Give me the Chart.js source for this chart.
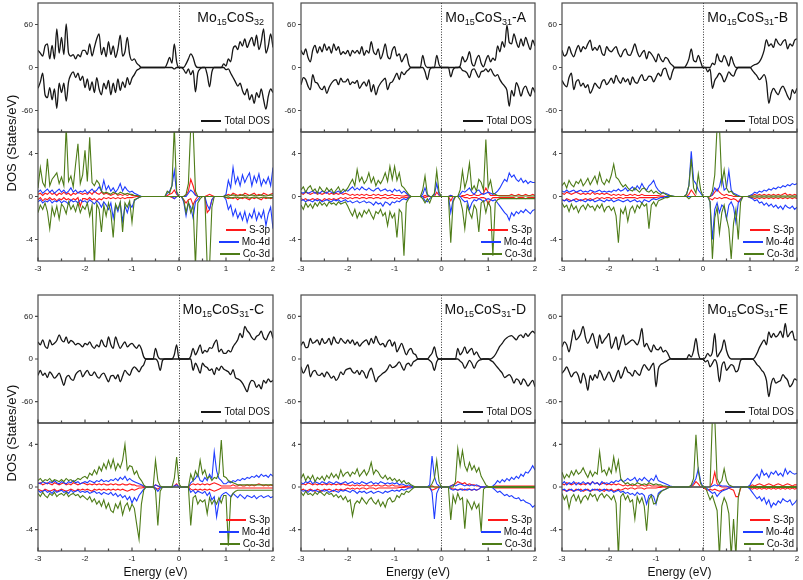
<!DOCTYPE html>
<html><head><meta charset="utf-8">
<script src="https://cdn.jsdelivr.net/npm/chart.js@4.4.1/dist/chart.umd.min.js"></script>
<style>
html,body{margin:0;padding:0;background:#fff}
#root{position:relative;width:803px;height:580px;overflow:hidden;font-family:"Liberation Sans",Arial,sans-serif;color:#111}
.ttl{position:absolute;font-size:14px;line-height:16px;white-space:nowrap;text-align:right}
.ttl sub{font-size:9px;vertical-align:-3px;line-height:0}
.lg{position:absolute;font-size:10px;line-height:12px;white-space:nowrap;text-align:right}
.sw{display:inline-block;width:20px;height:2px;vertical-align:middle;margin-right:3px;margin-top:-1px}
.yl{position:absolute;width:160px;text-align:center;font-size:13px;line-height:14px;transform:rotate(-90deg);white-space:nowrap}
.xl{position:absolute;text-align:center;font-size:12px;line-height:14px;white-space:nowrap}
</style></head>
<body><div id="root"></div>
<script>
// ---------------- DATA ----------------
const energy=[-3,-2.95,-2.9,-2.85,-2.8,-2.75,-2.7,-2.65,-2.6,-2.55,
-2.5,-2.45,-2.4,-2.35,-2.3,-2.25,-2.2,-2.15,-2.1,-2.05,
-2,-1.95,-1.9,-1.85,-1.8,-1.75,-1.7,-1.65,-1.6,-1.55,
-1.5,-1.45,-1.4,-1.35,-1.3,-1.25,-1.2,-1.15,-1.1,-1.05,
-1,-0.95,-0.9,-0.85,-0.8,-0.75,-0.7,-0.65,-0.6,-0.55,
-0.5,-0.45,-0.4,-0.35,-0.3,-0.25,-0.2,-0.15,-0.1,-0.05,
0,0.05,0.1,0.15,0.2,0.25,0.3,0.35,0.4,0.45,
0.5,0.55,0.6,0.65,0.7,0.75,0.8,0.85,0.9,0.95,
1,1.05,1.1,1.15,1.2,1.25,1.3,1.35,1.4,1.45,
1.5,1.55,1.6,1.65,1.7,1.75,1.8,1.85,1.9,1.95,
2];
const xTickValues=[-3,-2,-1,0,1,2];
const xMinorTickValues=[-2.5,-1.5,-0.5,0.5,1.5];
const totalTickValues=[-60,0,60];
const partialTickValues=[-4,0,4];
const panelTitles=['Mo<sub>15</sub>CoS<sub>32</sub>','Mo<sub>15</sub>CoS<sub>31</sub>-A','Mo<sub>15</sub>CoS<sub>31</sub>-B','Mo<sub>15</sub>CoS<sub>31</sub>-C','Mo<sub>15</sub>CoS<sub>31</sub>-D','Mo<sub>15</sub>CoS<sub>31</sub>-E'];
const seriesNames=['Total DOS','S-3p','Mo-4d','Co-3d'];

// Panel 1: Mo15CoS32
const p1TotUp=[24,20,16,30,33,12,31,12,54,20, 42,18,61,20,16,18,12,18,15,24, 24,18,33,16,28,40,47,18,28,15, 36,18,30,14,26,45,16,22,42,18, 10,12,6,3,0,0,0,0,0,0, 0,0,0,0,0,6,14,6,33,8, 0,0,0,5,12,19,14,3,0,0, 0,0,0,0,0,0,0,0,0,5, 2,12,8,26,30,25,36,30,40,28, 36,42,30,45,25,36,54,20,30,47, 28];
const p1TotDn=[-29,-20,-8,-38,-42,-28,-45,-30,-57,-22, -35,-22,-47,-20,-10,-6,-14,-8,-18,-12, -28,-16,-32,-20,-35,-14,-30,-38,-22,-30, -18,-38,-22,-35,-16,-32,-20,-28,-14,-24, -15,-10,-4,-2,0,0,0,0,0,0, 0,0,0,0,0,0,0,0,-2,0, 0,0,-3,-8,-2,-10,-4,-34,-8,-2, 0,0,-10,-27,-6,0,0,0,0,0, -3,-2,-8,-14,-20,-26,-22,-32,-38,-30, -45,-38,-50,-35,-42,-30,-45,-58,-40,-30, -35];
const p1S3pUp=[0.2,0.3,0.1,0.3,0.2,0.4,0.2,0.3,0.1,0.3, 0.2,0.4,0.2,0.3,0.1,0.3,0.2,0.4,0.3,0.2, 0.3,0.2,0.4,0.2,0.5,0.3,0.2,0.4,0.2,0.3, 0.2,0.1,0.2,0.3,0.1,0.2,0.1,0.2,0.1,0.2, 0.1,0.1,0.05,0,0,0,0,0,0,0, 0,0,0,0,0,0.1,0.2,0.3,0.6,0.2, 0,0,0,0.1,0.5,1.6,1.0,0.2,0,0, 0,0,0.1,0.2,0.1,0,0,0,0,0, 0.1,0.2,0.1,0.3,0.2,0.1,0.2,0.1,0.3,0.2, 0.1,0.2,0.3,0.1,0.2,0.1,0.3,0.2,0.1,0.2, 0.3];
const p1S3pDn=[-0.3,-0.1,-0.4,-0.2,-0.3,-0.1,-0.3,-0.2,-0.4,-0.2, -0.3,-0.1,-0.3,-0.2,-0.4,-0.2,-0.3,-0.1,-0.9,-0.2, -0.2,-0.3,-0.1,-0.3,-0.2,-0.4,-0.2,-0.3,-0.1,-0.2, -0.1,-0.2,-0.1,-0.2,-0.1,-0.2,-0.1,-0.2,-0.1,-0.1, -0.1,-0.05,0,0,0,0,0,0,0,0, 0,0,0,0,0,0,0,-0.1,-0.2,0, 0,0,-0.3,-0.6,-0.3,-0.2,-0.8,-0.3,0,0, 0,0,-1.5,-1.2,-0.3,0,0,0,0,0, -0.1,-0.2,-0.1,-0.2,-0.1,-0.3,-0.1,-0.2,-0.1,-0.2, -0.3,-0.1,-0.2,-0.1,-0.2,-0.3,-0.1,-0.2,-0.1,-0.2, -0.1];
const p1Mo4dUp=[0.4,0.6,0.3,0.5,0.7,0.4,0.6,0.3,0.5,0.7, 0.4,0.6,0.3,0.5,0.8,0.4,0.6,0.3,0.5,0.4, 0.6,0.3,0.5,0.7,0.4,0.6,0.9,0.5,1.5,0.6, 1.0,0.5,0.8,0.4,0.7,1.2,0.5,0.9,0.6,0.4, 0.5,0.3,0.2,0.1,0,0,0,0,0,0, 0,0,0,0,0,0.3,0.5,1.0,2.4,0.3, 0,0,0,0,0.3,0.6,0.4,0.1,0,0, 0,0,0,0,0,0,0,0,0,0, 0.2,1.5,0.8,2.7,1.2,1.8,1.0,2.0,1.3,1.8, 2.2,1.0,1.9,1.3,2.1,1.0,1.6,1.2,1.8,1.0, 2.7];
const p1Mo4dDn=[-0.5,-0.3,-0.6,-0.4,-0.5,-0.3,-0.6,-0.4,-0.5,-0.3, -0.6,-0.4,-0.5,-0.7,-0.3,-0.5,-0.4,-0.6,-0.3,-0.5, -0.4,-0.6,-0.3,-0.5,-0.7,-0.4,-0.6,-1.0,-0.5,-0.8, -1.2,-0.6,-2.0,-0.8,-1.4,-0.6,-2.3,-0.9,-1.5,-0.7, -1.0,-0.4,-0.2,-0.1,0,0,0,0,0,0, 0,0,0,0,0,0,0,0,-0.2,0, 0,0,-0.5,-1.8,-0.6,-1.0,-2.0,-0.5,-0.3,0, 0,0,-0.8,-1.2,-0.3,0,0,0,0,0, -0.3,-1.2,-0.8,-1.8,-1.2,-2.0,-1.5,-2.2,-1.4,-2.4, -1.6,-2.0,-1.2,-2.2,-1.5,-2.0,-1.3,-2.7,-1.6,-1.0, -3.0];
const p1Co3dUp=[0.8,2.7,1.3,0.9,3.5,1.0,1.6,1.9,2.2,1.2, 1.8,1.0,6.5,1.4,1.9,0.9,3.0,4.9,1.2,2.0, 4.3,1.4,5.5,1.3,1.0,1.5,1.2,0.5,0.3,0.4, 0.3,0.2,0.4,0.3,0.2,0.4,0.3,0.2,0.3,0.2, 0.2,0.1,0.1,0.05,0,0,0,0,0,0, 0,0,0,0,0,0.5,0.3,1.0,6.5,0.5, 0,0,0,0.2,1.2,6.5,6.5,0.5,0,0, 0,0,0,0,0,0,0,0,0,0, 0.1,0.05,0.1,0.15,0.1,0.05,0.1,0.15,0.1,0.05, 0.1,0.15,0.1,0.05,0.1,0.15,0.1,0.05,0.1,0.15, 0.1];
const p1Co3dDn=[-1.5,-0.8,-1.2,-0.6,-1.4,-3.0,-1.0,-1.8,-0.9,-2.1, -0.7,-1.0,-1.6,-0.5,-1.2,-0.8,-1.4,-0.6,-1.5,-0.9, -1.2,-0.6,-1.8,-0.8,-6.5,-0.7,-1.2,-3.3,-0.8,-1.8, -0.6,-1.5,-3.8,-0.7,-1.2,-0.5,-3.3,-0.6,-1.0,-0.4, -2.4,-0.3,-0.2,-0.1,0,0,0,0,0,0, 0,0,0,0,0,0,0,0,0,0, 0,0,-0.3,-1.5,-0.5,-1.5,-0.8,-6.5,-0.6,-0.2, 0,0,-6.5,-6.5,-1.0,0,0,0,0,0, -0.1,-0.05,-0.15,-0.1,-0.05,-0.1,-0.15,-0.1,-0.05,-0.1, -0.15,-0.1,-0.05,-0.1,-0.15,-0.1,-0.05,-0.1,-0.15,-0.1, -0.1];

// Panel 2: Mo15CoS31-A
const p2TotUp=[24,18,26,14,8,24,31,20,29,22, 33,24,29,20,33,24,29,18,22,19, 24,16,24,20,24,19,29,17,24,20, 36,22,18,26,12,20,33,16,12,24, 29,16,19,8,14,19,5,0,0,0, 0,0,17,4,0,0,0,0,17,4, 0,0,0,0,0,0,0,0,2,15, 8,12,22,6,2,12,17,6,1,10, 17,8,13,10,30,22,36,28,59,35, 33,47,36,28,40,30,42,33,25,38, 30];
const p2TotDn=[-24,-14,-17,-26,-31,-10,-20,-22,-28,-31, -26,-36,-28,-22,-18,-17,-24,-15,-20,-20, -16,-24,-20,-22,-18,-29,-24,-20,-26,-17, -34,-24,-38,-28,-22,-18,-15,-31,-22,-20, -14,-8,-17,-6,-10,-6,-3,0,0,0, 0,0,0,-6,-17,-3,0,0,0,0, 0,0,0,0,-13,-3,0,0,0,-4, -5,-8,-14,-4,-2,-8,-14,-6,-5,-2, -6,-2,-8,-12,-10,-17,-22,-26,-32,-54, -32,-40,-21,-28,-40,-30,-26,-34,-40,-28, -35];
const p2S3pUp=[0.3,0.2,0.4,0.3,0.2,0.3,0.4,0.2,0.3,0.2, 0.3,0.4,0.2,0.3,0.2,0.3,0.2,0.3,0.2,0.3, 0.2,0.1,0.2,0.1,0.2,0.1,0.2,0.1,0.2,0.1, 0.1,0.2,0.1,0.2,0.1,0.1,0.2,0.1,0.1,0.2, 0.1,0.1,0.1,0.05,0.05,0.1,0.05,0,0,0, 0,0,0,0.1,0,0,0,0,0.4,0.1, 0,0,0,0,0.1,0,0,0,0,0.1, 0.1,0.2,0.1,0.1,0.2,0.1,0.1,0.2,0.3,0.8, 0.4,0.1,0.1,0.1,0.1,0.1,0.1,0.1,0.1,0.1, 0.2,0.1,0.1,0.2,0.1,0.1,0.2,0.1,0.1,0.2, 0.1];
const p2S3pDn=[-0.2,-0.3,-0.2,-0.4,-0.3,-0.2,-0.3,-0.2,-0.3,-0.4, -0.2,-0.3,-0.2,-0.3,-0.2,-0.3,-0.2,-0.1,-0.2,-0.1, -0.2,-0.1,-0.2,-0.1,-0.1,-0.2,-0.1,-0.1,-0.2,-0.1, -0.1,-0.2,-0.1,-0.1,-0.2,-0.1,-0.1,-0.2,-0.1,-0.1, -0.2,-0.1,-0.2,-0.1,-0.05,-0.1,-0.05,0,0,0, 0,0,0,-0.1,0,0,0,0,0,0, 0,0,0,0,-0.4,0,0,0,0,0, -0.1,-0.1,-0.2,-0.1,-0.1,-0.1,-0.2,-0.1,-0.1,-0.2, -0.7,-0.3,-0.1,-0.1,-0.1,-0.1,-0.1,-0.1,-0.1,-0.1, -0.1,-0.1,-0.2,-0.1,-0.1,-0.1,-0.2,-0.1,-0.1,-0.1, -0.1];
const p2Mo4dUp=[0.4,0.3,0.5,0.3,0.4,0.5,0.3,0.4,0.3,0.5, 0.4,0.3,0.5,0.4,0.3,0.4,0.5,0.3,0.4,0.6, 0.5,0.7,0.9,0.6,0.8,0.6,0.9,0.7,0.6,0.8, 0.6,0.5,0.7,0.8,0.5,0.6,0.7,0.5,0.6,0.4, 0.7,0.5,0.6,0.3,0.5,0.3,0.1,0,0,0, 0,0,0.2,0.8,0.1,0,0,0.2,1.2,0.2, 0,0,0,0,0.1,0,0,0,0.2,0.5, 0.4,0.6,0.8,0.4,0.2,0.5,0.6,0.3,0.2,0.3, 0.4,0.3,0.2,0.3,0.5,0.8,1.2,1.6,1.4,2.2, 1.8,2.0,1.6,1.4,1.7,1.3,1.5,1.2,1.4,1.3, 1.3];
const p2Mo4dDn=[-0.4,-0.3,-0.5,-0.3,-0.4,-0.5,-0.3,-0.4,-0.3,-0.5, -0.4,-0.3,-0.4,-0.5,-0.3,-0.4,-0.3,-0.5,-0.4,-0.3, -0.5,-0.4,-0.6,-0.5,-0.4,-0.6,-0.5,-0.4,-0.6,-0.5, -0.6,-0.8,-0.5,-0.7,-0.6,-0.9,-0.5,-0.6,-0.8,-0.5, -0.6,-0.4,-0.5,-0.3,-0.2,-0.3,-0.1,0,0,0, 0,0,0,-0.4,-0.5,-0.2,0,0,0,0, 0,0,0,0,-1.5,-0.3,0,0,0,-0.3, -0.5,-0.4,-1.2,-0.6,-0.3,-0.4,-0.2,-0.3,-0.5,-0.3, -0.2,-0.3,-0.4,-0.3,-0.6,-0.9,-1.2,-1.5,-1.7,-2.2, -1.5,-1.8,-1.4,-1.6,-1.3,-1.5,-1.2,-1.4,-1.6,-1.3, -1.2];
const p2Co3dUp=[0.6,0.9,0.4,0.8,1.0,0.5,0.7,0.3,0.9,0.6, 0.4,0.8,0.5,0.7,0.3,0.6,0.9,0.4,0.7,0.5, 0.8,1.2,1.6,1.0,2.5,1.4,1.8,1.2,1.5,2.2, 1.3,1.8,1.0,1.5,1.2,1.6,2.2,1.4,2.8,1.6, 2.8,1.5,2.2,1.0,0.8,0.5,0.2,0,0,0, 0,0,0.6,1.9,0.2,0,0,0.3,2.4,0.4, 0,0,0,0,0,0,0,0,0.6,2.4, 0.8,1.6,3.1,0.6,1.0,0.5,1.6,1.3,0.6,5.3, 0.8,1.5,0.3,0.2,0.1,0.05,0.05,0.05,0.05,0.05, 0.05,0.05,0.05,0.05,0.05,0.05,0.05,0.05,0.05,0.05, 0.05];
const p2Co3dDn=[-0.8,-1.2,-0.6,-1.0,-0.7,-1.1,-0.6,-0.9,-0.5,-0.8, -0.6,-0.9,-0.5,-0.7,-0.6,-0.8,-0.5,-0.7,-0.6,-0.5, -0.9,-1.4,-1.8,-1.2,-2.0,-1.5,-1.9,-1.3,-1.6,-1.2, -1.7,-2.1,-1.4,-1.6,-1.2,-1.8,-1.5,-2.7,-1.4,-2.0, -1.6,-3.8,-1.2,-1.5,-5.5,-0.6,-0.2,0,0,0, 0,0,-0.2,-0.6,-0.2,-0.6,0,0,0,0, 0,0,0,0,-4.3,-0.5,0,0,-0.3,-1.2, -3.0,-0.8,-1.5,-2.0,-0.8,-1.2,-3.3,-0.6,-0.4,-1.5, -0.5,-1.0,-5.5,-0.6,-0.3,-0.2,-0.2,-0.2,-0.2,-0.2, -0.2,-0.2,-0.2,-0.2,-0.2,-0.2,-0.2,-0.2,-0.2,-0.2, -0.2];

// Panel 3: Mo15CoS31-B
const p3TotUp=[24,16,19,29,20,15,24,31,22,29, 26,33,38,24,28,24,31,20,17,29, 24,22,26,29,20,15,22,26,18,17, 24,33,22,15,20,24,12,22,19,14, 8,19,12,8,14,12,6,3,0,0, 0,0,0,4,12,26,10,8,17,8, 0,0,0,0,6,4,19,10,8,17, 10,2,15,6,0,0,0,0,0,0, 0,2,4,5,8,14,24,39,30,33, 28,40,34,31,36,39,26,33,30,38, 40];
const p3TotDn=[-18,-24,-27,-14,-8,-31,-20,-17,-26,-22, -28,-24,-36,-30,-22,-26,-29,-20,-17,-24, -20,-15,-22,-11,-18,-22,-14,-20,-16,-24, -13,-20,-22,-15,-10,-18,-17,-12,-13,-20, -14,-8,-12,-3,-1,-10,-17,-6,0,0, 0,0,0,0,0,0,0,0,0,0, 0,0,-6,-2,-29,-18,-13,-8,-12,-20, -14,-6,-10,-12,-4,0,0,0,0,0, 0,-4,-8,-12,-17,-14,-10,-20,-50,-36, -29,-34,-38,-30,-26,-32,-40,-45,-31,-36, -29];
const p3S3pUp=[0.3,0.2,0.4,0.3,0.2,0.3,0.4,0.3,0.2,0.3, 0.2,0.3,0.2,0.4,0.2,0.3,0.2,0.3,0.2,0.3, 0.2,0.1,0.2,0.1,0.2,0.1,0.2,0.1,0.1,0.2, 0.1,0.2,0.1,0.1,0.2,0.1,0.1,0.1,0.1,0.1, 0.1,0.1,0.05,0.05,0,0,0,0,0,0, 0,0,0,0,0.2,0.6,0.3,0,0,0, 0,0,0,0,0.1,0.4,0.7,0.4,0.2,0.1, 0.2,0.1,0.1,0,0,0,0,0,0,0, 0.05,0.1,0.2,0.1,0.2,0.1,0.2,0.1,0.2,0.1, 0.2,0.1,0.2,0.1,0.2,0.3,0.1,0.2,0.1,0.2, 0.1];
const p3S3pDn=[-0.3,-0.4,-0.2,-0.3,-0.4,-0.3,-0.2,-0.3,-0.4,-0.3, -0.2,-0.3,-0.2,-0.3,-0.2,-0.1,-0.2,-0.1,-0.2,-0.1, -0.1,-0.2,-0.1,-0.2,-0.1,-0.1,-0.2,-0.1,-0.1,-0.1, -0.1,-0.1,-0.2,-0.1,-0.1,-0.1,-0.1,-0.1,-0.1,-0.1, -0.1,-0.05,-0.05,0,0,0,0,0,0,0, 0,0,0,0,0,0,0,0,0,0, 0,0,0,-0.2,-0.3,-0.1,-0.2,-0.1,-0.2,-0.1, -0.1,-0.2,-0.3,-0.2,-0.3,-0.5,-0.2,0,0,0, -0.1,-0.1,-0.2,-0.1,-0.2,-0.1,-0.2,-0.1,-0.2,-0.1, -0.2,-0.1,-0.2,-0.1,-0.2,-0.1,-0.2,-0.1,-0.2,-0.1, -0.2];
const p3Mo4dUp=[0.5,0.4,0.6,0.4,0.5,0.6,0.4,0.5,0.6,0.4, 0.5,0.4,0.6,0.5,0.4,0.5,0.6,0.4,0.5,0.4, 0.5,0.4,0.6,0.5,0.7,0.5,0.6,0.8,0.5,0.7, 0.9,0.6,1.0,0.7,1.2,0.8,0.6,1.0,1.2,1.5, 0.9,0.6,0.4,0.3,0.3,0.2,0.1,0.05,0,0, 0,0,0,0.2,1.0,4.2,1.5,1.2,0.6,0.3, 0,0,0,0,0.2,0.8,0.5,0.9,1.9,0.6, 0.8,2.4,0.6,0.3,0.2,0.1,0,0,0,0, 0.1,0.2,0.4,0.3,0.5,0.4,0.6,0.5,0.7,0.6, 0.8,0.7,0.9,0.8,1.0,0.9,1.1,1.0,1.2,1.1, 1.2];
const p3Mo4dDn=[-0.3,-0.4,-0.3,-0.5,-0.4,-0.3,-0.5,-0.4,-0.3,-0.4, -0.5,-0.3,-0.4,-0.3,-0.5,-0.4,-0.3,-0.4,-0.5,-0.3, -0.4,-0.3,-0.5,-0.4,-0.3,-0.4,-0.5,-0.4,-0.3,-0.5, -0.4,-0.3,-0.5,-0.4,-0.6,-0.3,-0.4,-0.5,-0.3,-0.2, -0.3,-0.2,-0.1,-0.1,0,0,0,0,0,0, 0,0,0,0,0,0,0,0,0,0, 0,0,0,-0.5,-4.0,-1.2,-0.6,-1.5,-0.8,-1.0, -2.1,-0.8,-0.5,-1.0,-2.4,-0.6,-0.3,0,0,0, -0.1,-0.2,-0.4,-0.3,-0.6,-0.5,-0.8,-0.6,-0.9,-0.7, -1.0,-0.8,-1.1,-0.9,-1.2,-0.8,-1.0,-1.1,-0.9,-1.2, -1.0];
const p3Co3dUp=[1.0,1.3,0.8,1.5,1.1,0.9,1.4,1.2,1.6,1.0, 1.3,1.7,1.1,1.5,1.9,1.2,2.2,1.4,1.1,1.6, 1.3,2.0,3.0,1.8,1.6,1.2,0.9,1.1,0.8,0.6, 0.5,0.8,0.6,0.4,0.7,0.8,0.5,0.4,0.6,0.3, 0.5,0.3,0.2,0.4,0.2,0.1,0.1,0.05,0,0, 0,0,0,0.2,1.0,3.5,0.8,0.3,2.1,0.6, 0,0,0,0,0.5,2.0,6.5,6.5,1.2,2.5, 0.8,0.4,0.5,0.2,0.1,0,0,0,0,0, 0.05,0.05,0.05,0.05,0.05,0.05,0.05,0.05,0.05,0.05, 0.05,0.05,0.05,0.05,0.05,0.05,0.05,0.05,0.05,0.05, 0.05];
const p3Co3dDn=[-0.6,-1.0,-0.8,-1.4,-0.7,-1.2,-0.9,-1.5,-1.0,-0.8, -1.2,-0.7,-1.0,-0.9,-1.3,-0.8,-1.1,-0.7,-1.4,-1.0, -0.9,-1.3,-1.0,-1.8,-4.3,-1.2,-1.6,-1.0,-2.3,-1.2, -0.9,-1.5,-0.8,-1.1,-0.6,-0.9,-0.7,-3.0,-0.8,-0.5, -0.9,-0.4,-0.3,-0.2,-0.1,-0.1,0,0,0,0, 0,0,0,0,-0.2,0,0,0,0,0, 0,0,0,-0.5,-5.8,-2.0,-1.0,-3.4,-1.5,-0.8, -2.0,-3.0,-5.8,-2.5,-1.2,-4.0,-0.5,0,0,0, -0.05,-0.05,-0.05,-0.05,-0.05,-0.05,-0.05,-0.05,-0.05,-0.05, -0.05,-0.05,-0.05,-0.05,-0.05,-0.05,-0.05,-0.05,-0.05,-0.05, -0.05];

// Panel 4: Mo15CoS31-C
const p4TotUp=[24,20,27,18,15,27,20,22,26,34, 27,24,31,22,26,24,20,22,20,17, 22,20,24,18,15,20,17,27,20,17, 31,20,15,31,22,15,20,24,17,20, 22,18,15,20,14,3,0,0,0,0, 15,4,0,0,0,0,0,0,6,20, 0,0,0,0,0,4,15,6,12,20, 8,12,10,16,15,22,27,10,14,8, 8,12,10,17,22,27,36,30,46,40, 36,30,27,32,34,39,30,27,34,39, 29];
const p4TotDn=[-23,-16,-23,-20,-26,-18,-22,-27,-24,-20, -28,-37,-26,-23,-28,-30,-22,-18,-16,-25, -20,-16,-22,-23,-18,-24,-27,-22,-20,-26, -32,-24,-23,-28,-22,-32,-24,-16,-20,-23, -15,-11,-14,-18,-12,-8,0,0,0,0, 0,-4,-16,-2,0,0,0,0,0,0, 0,0,0,0,0,0,-16,-6,-12,-20, -6,-10,-12,-16,-14,-22,-12,-16,-10,-14, -16,-18,-22,-15,-26,-28,-30,-34,-40,-46, -35,-30,-32,-40,-36,-42,-30,-34,-28,-32, -30];
const p4S3pUp=[0.3,0.4,0.2,0.3,0.4,0.3,0.2,0.4,0.3,0.2, 0.3,0.4,0.2,0.3,0.2,0.4,0.3,0.2,0.3,0.4, 0.3,0.2,0.3,0.2,0.3,0.2,0.3,0.2,0.3,0.2, 0.2,0.3,0.2,0.3,0.2,0.2,0.3,0.2,0.2,0.3, 0.2,0.2,0.1,0.1,0.1,0.05,0,0,0,0, 0.2,0.1,0,0,0,0,0,0,0.1,0.3, 0,0,0,0,0,0.2,0.3,0.2,0.3,0.2, 0.3,0.2,0.3,0.2,0.3,0.4,0.3,0.2,0.1,0.1, 0.1,0.1,0.1,0.2,0.1,0.1,0.2,0.1,0.1,0.2, 0.1,0.2,0.1,0.2,0.3,0.2,0.1,0.2,0.1,0.2, 0.1];
const p4S3pDn=[-0.2,-0.3,-0.4,-0.2,-0.3,-0.4,-0.3,-0.2,-0.4,-0.3, -0.2,-0.3,-0.4,-0.3,-0.2,-0.3,-0.4,-0.2,-0.3,-0.2, -0.3,-0.2,-0.3,-0.4,-0.2,-0.3,-0.2,-0.3,-0.2,-0.3, -0.2,-0.3,-0.2,-0.3,-0.2,-0.3,-0.2,-0.3,-0.4,-0.3, -0.2,-0.3,-0.2,-0.1,-0.1,-0.05,0,0,0,0, -0.1,-0.2,0,0,0,0,0,0,0,0, 0,0,0,0,0,-0.2,-0.3,-0.2,-0.3,-0.2, -0.3,-0.2,-0.3,-0.2,-0.3,-0.4,-0.3,-0.2,-0.1,-0.1, -0.1,-0.1,-0.1,-0.1,-0.1,-0.1,-0.1,-0.1,-0.1,-0.1, -0.1,-0.1,-0.1,-0.1,-0.1,-0.1,-0.1,-0.1,-0.1,-0.1, -0.1];
const p4Mo4dUp=[0.4,0.3,0.5,0.4,0.3,0.5,0.4,0.6,0.4,0.3, 0.5,0.4,0.3,0.5,0.4,0.6,0.4,0.5,0.3,0.4, 0.5,0.4,0.6,0.5,0.4,0.6,0.5,0.7,0.5,0.6, 0.5,0.7,0.6,0.8,0.6,0.9,0.7,1.0,0.6,0.8, 0.6,0.5,0.4,0.3,0.2,0.1,0,0,0,0, 0.2,0.1,0,0,0,0,0,0,0.1,0.2, 0,0,0,0,0,0.4,0.6,0.8,1.2,0.6, 0.5,0.9,0.6,1.2,0.8,3.3,1.5,0.8,0.6,0.3, 0.3,0.5,0.4,0.6,0.5,0.7,0.6,0.8,0.7,0.9, 0.8,1.0,0.9,1.1,0.9,1.2,1.0,1.1,0.9,1.2, 1.0];
const p4Mo4dDn=[-0.3,-0.5,-0.4,-0.3,-0.5,-0.4,-0.6,-0.3,-0.5,-0.4, -0.3,-0.5,-0.4,-0.6,-0.3,-0.5,-0.4,-0.3,-0.5,-0.4, -0.5,-0.4,-0.6,-0.5,-0.4,-0.6,-0.5,-0.7,-0.5,-0.6, -0.7,-0.5,-0.8,-0.6,-0.9,-0.7,-1.0,-0.8,-1.2,-0.9, -1.5,-1.0,-1.3,-0.8,-0.5,-0.2,0,0,0,0, -0.1,-0.4,-0.1,0,0,0,0,0,0,0, 0,0,0,0,0,-0.5,-0.3,-0.6,-0.4,-0.5, -0.6,-0.4,-0.8,-0.5,-1.2,-0.9,-2.8,-1.4,-0.8,-0.6, -0.5,-0.7,-0.9,-0.6,-0.8,-1.0,-0.7,-0.9,-1.1,-0.8, -0.9,-1.0,-0.8,-1.1,-0.9,-0.8,-1.0,-0.9,-0.8,-1.0, -0.9];
const p4Co3dUp=[0.6,0.8,0.5,0.7,0.6,0.8,0.5,0.7,0.6,0.5, 0.7,0.5,0.8,0.6,0.7,0.5,0.6,0.8,0.7,0.9, 1.0,0.8,1.3,1.1,1.6,1.2,1.9,1.5,2.2,1.7, 2.5,1.8,2.6,1.6,2.2,1.8,2.5,4.0,1.6,2.0, 1.9,1.2,1.5,0.9,0.6,0.2,0,0,0,0, 2.5,0.6,0.1,0,0,0,0,0,0.8,2.8, 0.3,0,0,0,0,1.2,0.6,1.5,1.0,2.5, 1.2,1.6,0.8,1.0,0.6,0.9,0.8,1.3,4.4,1.0, 0.9,0.6,0.5,0.4,0.3,0.2,0.2,0.2,0.2,0.2, 0.2,0.2,0.2,0.2,0.2,0.2,0.2,0.2,0.2,0.2, 0.2];
const p4Co3dDn=[-0.6,-0.9,-0.5,-0.8,-1.0,-0.6,-0.8,-0.5,-0.9,-0.7, -0.6,-0.8,-0.5,-0.9,-0.7,-0.6,-0.8,-0.7,-1.0,-0.8, -1.0,-1.2,-0.9,-1.4,-1.1,-1.6,-1.3,-1.8,-1.2,-2.0, -1.5,-2.2,-2.4,-1.6,-2.0,-1.4,-2.6,-1.8,-1.5,-2.2, -1.6,-2.0,-3.5,-4.9,-1.6,-0.3,0,0,0,0, -0.3,-3.6,-0.4,0,0,0,0,0,0,0, 0,0,0,0,0,-3.6,-1.0,-0.8,-1.6,-1.2, -1.4,-1.2,-2.5,-1.0,-1.6,-1.2,-1.6,-1.0,-1.5,-0.8, -0.8,-5.5,-1.0,-0.6,-0.4,-0.3,-0.3,-0.3,-0.3,-0.3, -0.3,-0.3,-0.3,-0.3,-0.3,-0.3,-0.3,-0.3,-0.3,-0.3, -0.3];

// Panel 5: Mo15CoS31-D
const p5TotUp=[19,24,16,17,29,22,24,27,20,29, 22,24,29,20,31,24,22,29,25,22, 27,22,27,20,24,18,22,25,27,20, 29,22,32,24,20,22,17,24,27,18, 24,10,16,22,14,6,12,15,8,6, 0,0,0,0,0,4,8,17,4,0, 0,0,0,0,0,0,0,15,6,10, 17,8,12,15,6,10,4,0,0,0, 0,0,2,6,12,18,22,27,30,32, 33,30,27,32,34,30,36,32,36,39, 36];
const p5TotDn=[-11,-20,-14,-8,-25,-18,-16,-22,-23,-20, -25,-18,-22,-27,-24,-30,-26,-18,-22,-16, -14,-13,-18,-20,-16,-22,-16,-20,-27,-18, -13,-22,-32,-26,-23,-20,-18,-14,-8,-12, -11,-8,-4,-10,-16,-8,-6,-10,-4,-2, 0,0,0,0,0,-2,-6,-16,-4,0, 0,0,0,0,0,0,0,0,-3,-6, -13,-8,-2,-6,-13,-6,-2,-1,0,0, 0,-2,-4,-8,-12,-16,-20,-26,-24,-22, -26,-34,-28,-30,-36,-28,-32,-38,-34,-30, -39];
const p5S3pUp=[0.2,0.3,0.2,0.4,0.3,0.2,0.3,0.2,0.3,0.2, 0.3,0.2,0.3,0.2,0.3,0.2,0.3,0.2,0.3,0.2, 0.2,0.1,0.2,0.1,0.2,0.1,0.2,0.1,0.2,0.1, 0.1,0.2,0.1,0.2,0.1,0.1,0.2,0.1,0.1,0.2, 0.1,0.1,0.1,0.1,0.05,0.05,0,0,0,0, 0,0,0,0,0,0,0.1,0,0,0, 0,0,0,0,0.1,0.2,0.3,0.5,0.4,0.3, 0.4,0.2,0.3,0.2,0.2,0.1,0.1,0,0,0, 0,0,0.05,0.1,0.1,0.1,0.1,0.1,0.1,0.1, 0.1,0.1,0.1,0.1,0.1,0.1,0.1,0.1,0.1,0.1, 0.1];
const p5S3pDn=[-0.3,-0.2,-0.4,-0.3,-0.2,-0.3,-0.4,-0.2,-0.3,-0.4, -0.2,-0.3,-0.2,-0.3,-0.4,-0.2,-0.3,-0.2,-0.3,-0.2, -0.1,-0.2,-0.1,-0.2,-0.1,-0.2,-0.1,-0.1,-0.2,-0.1, -0.1,-0.1,-0.2,-0.1,-0.1,-0.1,-0.1,-0.1,-0.1,-0.1, -0.1,-0.1,-0.05,-0.05,-0.05,0,0,0,0,0, 0,0,0,0,0,-0.1,-0.3,-0.2,-0.1,0, 0,0,0,0,-0.1,-0.2,-0.2,-0.3,-0.2,-0.2, -0.3,-0.2,-0.2,-0.3,-0.2,-0.3,-0.2,0,0,0, 0,0,-0.05,-0.1,-0.1,-0.1,-0.1,-0.1,-0.1,-0.1, -0.1,-0.1,-0.1,-0.1,-0.1,-0.1,-0.1,-0.1,-0.1,-0.1, -0.1];
const p5Mo4dUp=[0.4,0.3,0.5,0.4,0.6,0.3,0.5,0.4,0.3,0.5, 0.4,0.3,0.5,0.4,0.3,0.5,0.4,0.3,0.4,0.5, 0.3,0.4,0.5,0.3,0.4,0.3,0.5,0.4,0.3,0.4, 0.5,0.3,0.4,0.3,0.5,0.4,0.3,0.4,0.3,0.4, 0.3,0.4,0.2,0.3,0.2,0.1,0.2,0.1,0,0, 0,0,0,0,0,0.2,2.9,1.0,0.3,0.1, 0,0,0,0,0.1,0.2,0.1,0.2,0.3,0.2, 0.1,0.2,0.1,0.2,0.1,0.2,0.1,0,0,0, 0,0,0.1,0.3,0.6,0.4,0.7,0.5,0.8,0.6, 0.9,0.7,1.0,0.8,1.2,1.0,1.4,1.3,1.6,2.0, 1.6];
const p5Mo4dDn=[-0.3,-0.4,-0.3,-0.5,-0.3,-0.4,-0.3,-0.4,-0.5,-0.3, -0.4,-0.3,-0.5,-0.4,-0.3,-0.4,-0.5,-0.3,-0.4,-0.3, -0.4,-0.5,-0.3,-0.4,-0.6,-0.4,-0.5,-0.4,-0.6,-0.5, -0.4,-0.6,-0.5,-0.4,-0.5,-0.6,-0.4,-0.5,-0.4,-0.3, -0.4,-0.3,-0.4,-0.2,-0.3,-0.2,-0.1,-0.1,0,0, 0,0,0,0,0,0,-0.5,-3.0,-0.6,-0.1, 0,0,0,0,-0.2,-0.3,-0.2,-0.3,-0.2,-0.3, -0.2,-0.3,-0.2,-0.3,-0.2,-0.3,-0.2,0,0,0, 0,0,-0.1,-0.3,-0.5,-0.4,-0.6,-0.8,-0.7,-0.9, -0.8,-1.0,-1.1,-1.0,-1.3,-1.2,-1.4,-1.5,-1.6,-1.9, -1.7];
const p5Co3dUp=[0.8,1.2,0.6,1.0,0.7,1.1,0.5,0.9,0.7,1.0, 0.6,1.1,0.8,1.3,0.9,1.2,0.8,1.6,1.0,1.3, 1.4,1.0,1.4,1.2,1.7,1.0,1.3,1.6,1.1,1.5, 2.3,1.2,1.6,1.4,1.0,0.8,1.1,0.7,0.9,0.6, 0.8,0.5,0.7,0.4,0.6,0.3,0.4,0.2,0.1,0, 0,0,0,0,0,0,0.3,0.8,2.5,0.5, 0,0,0,0,0,0,0.5,3.6,2.0,3.4, 2.0,1.5,2.3,1.6,2.0,1.4,1.8,1.0,0.6,0.2, 0.05,0.05,0.05,0.05,0.05,0.05,0.05,0.05,0.05,0.05, 0.05,0.05,0.05,0.05,0.05,0.05,0.05,0.05,0.05,0.05, 0.05];
const p5Co3dDn=[-0.5,-0.8,-0.4,-0.7,-0.6,-0.8,-0.5,-0.7,-0.4,-0.6, -0.8,-0.5,-0.7,-0.6,-0.9,-0.7,-1.0,-0.8,-1.2,-0.9, -1.4,-1.2,-2.7,-1.6,-1.3,-1.5,-1.0,-1.3,-1.6,-1.2, -1.0,-1.4,-1.6,-1.2,-1.8,-1.4,-1.9,-1.2,-1.0,-1.4, -1.3,-0.8,-1.0,-0.6,-0.7,-0.4,-0.5,-0.3,-0.1,0, 0,0,0,0,0,0,0,0,0,0, 0,0,0,0,-3.1,-0.8,-1.5,-0.6,-1.2,-1.0, -3.9,-1.2,-1.6,-2.1,-1.4,-2.0,-1.6,-4.2,-0.2,0, -0.05,-0.05,-0.05,-0.05,-0.05,-0.05,-0.05,-0.05,-0.05,-0.05, -0.05,-0.05,-0.05,-0.05,-0.05,-0.05,-0.05,-0.05,-0.05,-0.05, -0.05];

// Panel 6: Mo15CoS31-E
const p6TotUp=[17,24,20,10,25,41,27,30,36,46, 30,22,28,36,24,15,34,22,27,31, 36,15,22,31,13,24,34,20,22,25, 27,24,20,28,43,17,22,15,10,20, 14,13,17,10,12,8,1,0,0,0, 0,0,0,0,6,3,12,29,8,0, 0,2,8,4,10,36,3,8,14,27, 12,3,0,0,0,0,0,0,0,0, 0,0,2,8,16,22,27,20,38,30, 36,31,34,39,30,50,31,36,39,27, 27];
const p6TotDn=[-20,-16,-11,-18,-25,-20,-18,-24,-34,-20, -28,-44,-23,-30,-22,-27,-16,-22,-30,-24, -18,-26,-32,-24,-16,-27,-20,-11,-18,-20, -24,-16,-20,-23,-14,-8,-12,-16,-10,-6, -39,-14,-8,-6,-4,-2,0,0,0,0, 0,0,0,0,0,0,0,0,0,0, 0,-4,-2,-11,-6,-1,-8,-32,-10,-4, -16,-12,-8,-10,-18,-15,-2,0,0,0, 0,0,-3,-8,-11,-16,-20,-30,-53,-35, -27,-34,-32,-30,-22,-26,-30,-39,-35,-28, -30];
const p6S3pUp=[0.3,0.2,0.4,0.3,0.2,0.3,0.4,0.3,0.2,0.3, 0.2,0.4,0.3,0.5,0.3,0.4,0.2,0.3,0.4,0.2, 0.3,0.2,0.3,0.2,0.3,0.2,0.1,0.2,0.1,0.2, 0.1,0.2,0.1,0.1,0.2,0.1,0.1,0.2,0.1,0.1, 0.1,0.1,0.05,0.05,0,0,0,0,0,0, 0,0,0,0,0,0,0.2,0.5,0.3,0, 0,0,0,0,0.4,1.4,0.3,0.1,0,0, 0,0,0,0,0,0,0,0,0,0, 0.1,0.2,0.1,0.2,0.3,0.2,0.1,0.2,0.3,0.2, 0.1,0.2,0.3,0.2,0.1,0.2,0.3,0.2,0.1,0.2, 0.2];
const p6S3pDn=[-0.2,-0.3,-0.4,-0.2,-0.3,-0.4,-0.2,-0.3,-0.2,-0.4, -0.3,-0.2,-0.4,-0.3,-0.2,-0.3,-0.2,-0.3,-0.4,-0.2, -0.3,-0.2,-0.4,-0.3,-0.2,-0.3,-0.2,-0.1,-0.2,-0.1, -0.1,-0.2,-0.1,-0.1,-0.1,-0.2,-0.1,-0.1,-0.1,-0.1, -0.1,-0.05,-0.05,0,0,0,0,0,0,0, 0,0,0,0,0,0,0,0,0,0, 0,-0.2,-0.3,-0.2,-0.3,-0.2,-0.3,-0.4,-0.3,-0.2, -0.2,-0.1,-0.2,-0.3,-0.9,-0.9,-0.1,0,0,0, -0.1,-0.2,-0.1,-0.2,-0.1,-0.2,-0.1,-0.2,-0.1,-0.2, -0.1,-0.2,-0.1,-0.2,-0.1,-0.2,-0.1,-0.2,-0.1,-0.2, -0.1];
const p6Mo4dUp=[0.3,0.5,0.2,0.4,0.3,0.5,0.2,0.4,0.3,0.5, 0.3,0.4,0.2,0.5,0.3,0.4,0.2,0.5,0.3,0.4, 0.3,0.5,0.4,0.6,0.5,0.7,0.5,0.6,0.8,0.6, 0.7,0.9,0.5,0.8,0.6,0.9,0.7,0.5,0.8,0.6, 1.1,0.6,0.5,0.4,0.3,0.2,0.1,0.05,0,0, 0,0,0,0,0,0.1,0.4,0.8,1.7,0.5, 0,0,0,0,0.1,0.2,0.1,0.2,0.1,0.1, 0.1,0,0,0,0,0,0,0,0,0, 0.2,0.6,0.9,1.2,0.8,1.6,1.1,1.3,0.9,1.4, 1.2,1.5,1.1,1.3,1.0,1.7,1.2,1.5,1.3,1.2, 1.3];
const p6Mo4dDn=[-0.3,-0.2,-0.4,-0.3,-0.2,-0.4,-0.3,-0.2,-0.4,-0.3, -0.2,-0.3,-0.4,-0.2,-0.3,-0.2,-0.4,-0.3,-0.2,-0.3, -0.4,-0.3,-0.5,-0.4,-0.3,-0.5,-0.4,-0.6,-0.5,-0.7, -0.6,-0.8,-0.5,-0.7,-0.6,-0.8,-1.6,-0.8,-0.7,-0.9, -1.6,-0.6,-0.4,-0.3,-0.2,-0.1,0,0,0,0, 0,0,0,0,0,0,0,0,0,0, 0,0,-0.2,-0.4,-0.6,-0.5,-0.9,-0.6,-0.4,-0.3, -0.2,-0.1,0,0,0,0,0,0,0,0, -0.2,-0.5,-0.8,-1.1,-0.9,-1.3,-1.0,-1.6,-1.2,-1.9, -1.5,-1.7,-1.3,-1.5,-1.1,-1.3,-1.4,-1.2,-1.7,-1.5, -1.2];
const p6Co3dUp=[1.4,0.8,1.2,0.9,1.5,1.1,1.6,1.2,1.4,1.8, 1.3,0.9,1.5,1.0,1.4,1.2,3.3,1.4,1.6,1.1, 1.8,1.3,2.8,1.5,2.5,0.8,0.5,0.3,0.4,0.2, 0.3,0.2,0.4,0.3,0.2,0.3,0.2,0.4,0.3,0.2, 0.3,0.2,0.2,0.1,0.1,0.05,0,0,0,0, 0,0,0,0,0,0.2,0.8,4.9,1.5,0.3, 0,0,0,0,6.5,6.5,0.8,0.3,0.6,1.7, 0.6,0.2,0.1,0,0,0,0,0,0,0, 0.05,0.05,0.05,0.05,0.05,0.05,0.05,0.05,0.05,0.05, 0.05,0.05,0.05,0.05,0.05,0.05,0.05,0.05,0.05,0.05, 0.05];
const p6Co3dDn=[-0.6,-1.2,-0.8,-2.0,-1.0,-0.7,-1.3,-0.8,-1.5,-1.0, -0.8,-1.2,-0.6,-0.9,-0.7,-1.3,-0.8,-0.6,-1.0,-0.7, -0.9,-1.2,-0.8,-1.5,-6.5,-0.9,-0.6,-1.2,-0.8,-1.4, -1.2,-3.0,-0.9,-1.5,-1.0,-1.8,-4.1,-1.2,-0.8,-1.6, -1.5,-0.8,-0.5,-0.3,-0.2,-0.1,0,0,0,0, 0,0,0,0,0,0,0,0,0,0, 0,0,-0.6,-1.2,-0.8,-1.5,-2.2,-6.5,-1.8,-1.0, -1.5,-2.5,-6.5,-3.0,-6.5,-1.0,0,0,0,0, -0.05,-0.05,-0.05,-0.05,-0.05,-0.05,-0.05,-0.05,-0.05,-0.05, -0.05,-0.05,-0.05,-0.05,-0.05,-0.05,-0.05,-0.05,-0.05,-0.05, -0.05];

// ---------------- STYLE / LAYOUT ----------------
const panels=[
 {tu:p1TotUp,td:p1TotDn,su:p1S3pUp,sd:p1S3pDn,mu:p1Mo4dUp,md:p1Mo4dDn,cu:p1Co3dUp,cd:p1Co3dDn},
 {tu:p2TotUp,td:p2TotDn,su:p2S3pUp,sd:p2S3pDn,mu:p2Mo4dUp,md:p2Mo4dDn,cu:p2Co3dUp,cd:p2Co3dDn},
 {tu:p3TotUp,td:p3TotDn,su:p3S3pUp,sd:p3S3pDn,mu:p3Mo4dUp,md:p3Mo4dDn,cu:p3Co3dUp,cd:p3Co3dDn},
 {tu:p4TotUp,td:p4TotDn,su:p4S3pUp,sd:p4S3pDn,mu:p4Mo4dUp,md:p4Mo4dDn,cu:p4Co3dUp,cd:p4Co3dDn},
 {tu:p5TotUp,td:p5TotDn,su:p5S3pUp,sd:p5S3pDn,mu:p5Mo4dUp,md:p5Mo4dDn,cu:p5Co3dUp,cd:p5Co3dDn},
 {tu:p6TotUp,td:p6TotDn,su:p6S3pUp,sd:p6S3pDn,mu:p6Mo4dUp,md:p6Mo4dDn,cu:p6Co3dUp,cd:p6Co3dDn}
];
const COL_L=[38,301,562], COL_W=[235,234,235];
const ROWS=[{tT:3,tH:129,pT:132,pH:129},{tT:295,tH:128,pT:423,pH:128}];
const C_TOT='#161616', C_S='#ff1a1a', C_MO='#1f3cff', C_CO='#4e7c18', C_FRAME='#4a4a4a';
const root=document.getElementById('root');
const problems=[];

Chart.defaults.font.family='"Liberation Sans", Arial, sans-serif';

const framePlugin={
  id:'frame',
  beforeDatasetsDraw(chart){
    const {ctx,chartArea:a,scales:{x}}=chart;
    const x0=Math.round(x.getPixelForValue(0))+0.5;
    ctx.save();
    ctx.strokeStyle='#333'; ctx.lineWidth=1; ctx.setLineDash([1,1.6]);
    ctx.beginPath(); ctx.moveTo(x0,a.top); ctx.lineTo(x0,a.bottom); ctx.stroke();
    ctx.restore();
  },
  afterDraw(chart){
    const {ctx,chartArea:a,scales:{x,y}}=chart;
    ctx.save();
    ctx.strokeStyle=C_FRAME; ctx.lineWidth=1.2;
    ctx.strokeRect(a.left,a.top,a.right-a.left,a.bottom-a.top);
    ctx.beginPath();
    xTickValues.forEach(v=>{const p=x.getPixelForValue(v);ctx.moveTo(p,a.bottom);ctx.lineTo(p,a.bottom-3.5);});
    xMinorTickValues.forEach(v=>{const p=x.getPixelForValue(v);ctx.moveTo(p,a.bottom);ctx.lineTo(p,a.bottom-2.5);});
    y.ticks.forEach(t=>{const p=y.getPixelForValue(t.value);ctx.moveTo(a.left,p);ctx.lineTo(a.left-3,p);});
    ctx.stroke();
    ctx.restore();
  }
};

function pts(arr,name){
  if(arr.length!==energy.length) problems.push(name+' has '+arr.length);
  return energy.map((e,i)=>({x:e,y:arr[i]}));
}
function line(arr,color,width,order,name,smooth){
  const d={data:pts(arr,name),borderColor:color,borderWidth:width,pointRadius:0,tension:0,fill:false,order:order};
  if(smooth) d.cubicInterpolationMode='monotone';
  return d;
}

function addChart(L,T,W,H,withX,datasets,yMin,yMax,yTicks){
  const P=10, YW=30, XH=withX?14:0;
  const cw=W+YW+2*P, ch=H+2*P+XH;
  const cv=document.createElement('canvas');
  cv.width=cw; cv.height=ch;
  cv.style.cssText='position:absolute;left:'+(L-YW-P)+'px;top:'+(T-P)+'px;width:'+cw+'px;height:'+ch+'px';
  root.appendChild(cv);
  new Chart(cv,{
    type:'line',
    data:{datasets:datasets},
    options:{
      responsive:false,animation:false,devicePixelRatio:1,parsing:false,
      layout:{padding:P},
      plugins:{legend:{display:false},tooltip:{enabled:false},title:{display:false}},
      scales:{
        x:{type:'linear',min:-3,max:2,display:withX,
           grid:{display:false,drawTicks:false},border:{display:false},
           afterBuildTicks:s=>{s.ticks=xTickValues.map(v=>({value:v}));},
           afterFit:s=>{s.height=XH;},
           ticks:{font:{size:8},color:'#222',padding:3,maxRotation:0,autoSkip:false}},
        y:{type:'linear',min:yMin,max:yMax,
           grid:{display:false,drawTicks:false},border:{display:false},
           afterBuildTicks:s=>{s.ticks=yTicks.map(v=>({value:v}));},
           afterFit:s=>{s.width=YW;},
           ticks:{font:{size:8},color:'#222',padding:5}}
      }
    },
    plugins:[framePlugin]
  });
}

function addDiv(cls,html,css){
  const d=document.createElement('div'); d.className=cls; d.innerHTML=html; d.style.cssText=css; root.appendChild(d); return d;
}

panels.forEach((p,k)=>{
  const col=k%3, row=Math.floor(k/3);
  const L=COL_L[col], W=COL_W[col], R=ROWS[row];
  addChart(L,R.tT,W,R.tH,false,[
    line(p.tu,C_TOT,1.3,1,'p'+(k+1)+'TotUp',true),
    line(p.td,C_TOT,1.3,1,'p'+(k+1)+'TotDn',true)
  ],-90,90,totalTickValues);
  addChart(L,R.pT,W,R.pH,true,[
    line(p.cu,C_CO,1.1,1,'p'+(k+1)+'Co3dUp'),
    line(p.cd,C_CO,1.1,1,'p'+(k+1)+'Co3dDn'),
    line(p.mu,C_MO,1.1,2,'p'+(k+1)+'Mo4dUp'),
    line(p.md,C_MO,1.1,2,'p'+(k+1)+'Mo4dDn'),
    line(p.su,C_S,1.1,3,'p'+(k+1)+'S3pUp'),
    line(p.sd,C_S,1.1,3,'p'+(k+1)+'S3pDn')
  ],-6,6,partialTickValues);

  addDiv('ttl',panelTitles[k],'right:'+(803-(L+W)+9)+'px;top:'+(R.tT+6)+'px');
  addDiv('lg','<span class="sw" style="background:'+C_TOT+'"></span>'+seriesNames[0],
    'right:'+(803-(L+W)+3)+'px;top:'+(R.pT-17)+'px');
  const pb=R.pT+R.pH;
  addDiv('lg',
    '<div><span class="sw" style="background:'+C_S+'"></span>'+seriesNames[1]+'</div>'+
    '<div><span class="sw" style="background:'+C_MO+'"></span>'+seriesNames[2]+'</div>'+
    '<div><span class="sw" style="background:'+C_CO+'"></span>'+seriesNames[3]+'</div>',
    'right:'+(803-(L+W)+3)+'px;top:'+(pb-37)+'px');
  if(row===1){
    addDiv('xl','Energy (eV)','left:'+L+'px;width:'+W+'px;top:565px');
  }
});
addDiv('yl','DOS (States/eV)','left:-68px;top:136px');
addDiv('yl','DOS (States/eV)','left:-68px;top:426px');

if(problems.length) throw new Error('Length mismatch: '+problems.join('; '));
</script>
</body></html>
